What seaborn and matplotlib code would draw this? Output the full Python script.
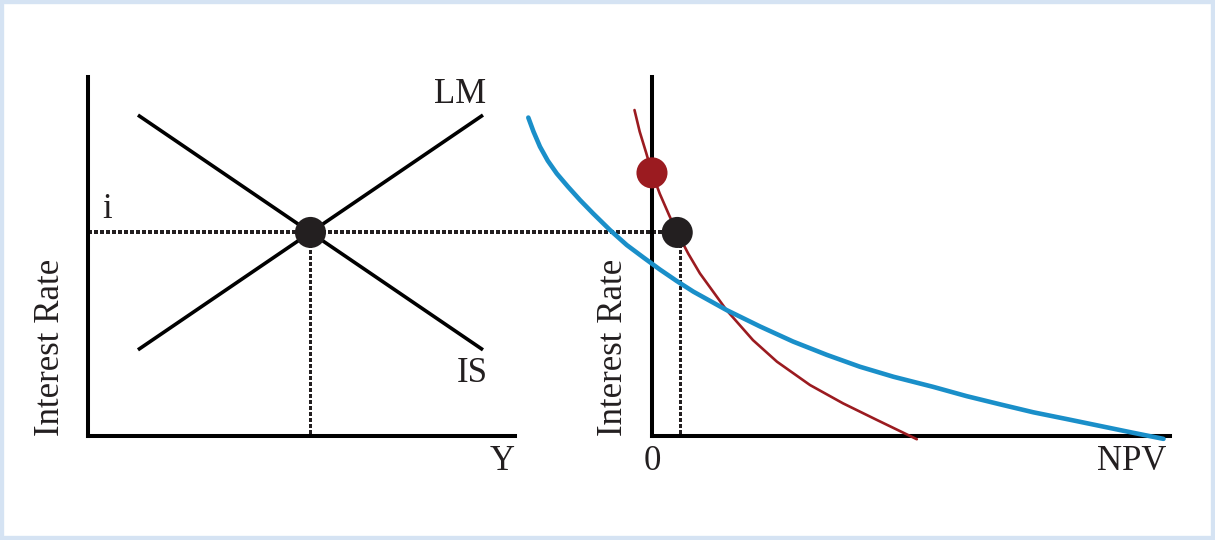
import matplotlib
matplotlib.use("Agg")
import matplotlib.pyplot as plt
import pandas as pd
import seaborn as sns
from matplotlib.patches import ConnectionPatch, Rectangle

# ---------------- data ----------------
# Left panel: IS-LM diagram (output Y on x, interest rate on y)
lm_output = [1.17, 9.25]
lm_rate = [2.40, 8.94]
is_output = [1.17, 9.25]
is_rate = [8.94, 2.40]
eq_output = [5.21]
eq_rate = [5.67]

# Right panel: NPV (x) vs interest rate (y)
red_npv = [-0.27, -0.19, -0.09, 0.0, 0.12, 0.27, 0.39, 0.56, 0.74, 1.15,
           1.56, 1.93, 2.44, 2.95, 3.47, 4.09]
red_rate = [9.08, 8.48, 7.89, 7.33, 6.75, 6.13, 5.67, 5.08, 4.53, 3.51,
            2.67, 2.07, 1.42, 0.91, 0.45, -0.09]
blue_npv = [-1.91, -1.83, -1.73, -1.61, -1.47, -1.30, -1.11, -0.91, -0.65,
            -0.39, -0.13, 0.12, 0.38, 0.64, 1.15, 1.67, 2.18, 2.70, 3.21, 3.73,
            4.34, 4.86, 5.38, 5.89, 6.41, 6.92, 7.43, 7.90]
blue_rate = [8.87, 8.48, 8.06, 7.67, 7.31, 6.95, 6.57, 6.20, 5.74,
             5.32, 4.97, 4.64, 4.32, 4.02, 3.51, 3.05, 2.63, 2.26, 1.93, 1.65,
             1.37, 1.11, 0.88, 0.66, 0.47, 0.28, 0.09, -0.08]
irr_npv = [0.0]
irr_rate = [7.33]
npv_at_i = [0.39]

left_labels = {"LM": (8.71, 9.50), "IS": (8.99, 1.75), "Y": (9.70, -0.72), "i": (0.44, 6.30)}
right_labels = {"0": (0.0, -0.72), "NPV": (7.41, -0.72)}
axis_title = "Interest Rate"

# ---------------- style ----------------
sns.set_theme(style="white")
plt.rcParams["font.family"] = ["Liberation Serif", "DejaVu Serif"]

TXT = "#231f20"
BLK = "#000000"
DOT = "#231f20"
RED = "#9b1b20"
BLUE = "#1a8fc9"
FS = 25
DOT_LW = 2.5
dotted = (0, (0.95, 0.75))

fig = plt.figure(figsize=(12.15, 5.4), dpi=100)
fig.patch.set_facecolor("white")

axL = fig.add_axes([88 / 1215, 104 / 540, 427 / 1215, 359 / 540])
axR = fig.add_axes([516 / 1215, 104 / 540, 654 / 1215, 359 / 540])

for ax in (axL, axR):
    ax.set_facecolor("none")
    for s in ("top", "right"):
        ax.spines[s].set_visible(False)
    for s in ("left", "bottom"):
        ax.spines[s].set_color(BLK)
        ax.spines[s].set_linewidth(2.9)
        ax.spines[s].set_capstyle("projecting")
    ax.set_xticks([])
    ax.set_yticks([])
    ax.grid(False)

axL.set_xlim(0, 10)
axL.set_ylim(0, 10)
axR.set_xlim(-2.1, 8.0)
axR.set_ylim(0, 10)
axR.spines["left"].set_position(("data", 0))
axR.spines["bottom"].set_bounds(0, 8.0)

# ---------------- left panel ----------------
lm_df = pd.DataFrame({"Y": lm_output, "r": lm_rate})
is_df = pd.DataFrame({"Y": is_output, "r": is_rate})
sns.lineplot(data=lm_df, x="Y", y="r", ax=axL, color=BLK, lw=2.6, sort=False,
             estimator=None, solid_capstyle="butt", zorder=3)
sns.lineplot(data=is_df, x="Y", y="r", ax=axL, color=BLK, lw=2.6, sort=False,
             estimator=None, solid_capstyle="butt", zorder=3)
sns.lineplot(x=[eq_output[0], eq_output[0]], y=[eq_rate[0], 0], ax=axL, color=DOT,
             lw=DOT_LW, linestyle=dotted, dash_capstyle="butt", antialiased=False,
             estimator=None, sort=False, zorder=2)
sns.scatterplot(x=eq_output, y=eq_rate, ax=axL, color=DOT, s=500, edgecolor="none",
                zorder=5, clip_on=False)

for t, (x, y) in left_labels.items():
    axL.text(x, y, t, fontsize=FS, color=TXT, ha="center", va="center")
axL.text(-0.87, 0.0, axis_title, fontsize=FS, color=TXT, rotation=90,
         ha="center", va="bottom")

# ---------------- right panel ----------------
red_df = pd.DataFrame({"npv": red_npv, "r": red_rate})
blue_df = pd.DataFrame({"npv": blue_npv, "r": blue_rate})
sns.lineplot(data=red_df, x="npv", y="r", ax=axR, color=RED, lw=1.9, sort=False,
             estimator=None, zorder=3, clip_on=False, solid_joinstyle="round")
sns.lineplot(data=blue_df, x="npv", y="r", ax=axR, color=BLUE, lw=3.3, sort=False,
             estimator=None, zorder=3, clip_on=False, solid_joinstyle="round")
sns.lineplot(x=[npv_at_i[0] + 0.04, npv_at_i[0] + 0.04], y=[eq_rate[0], 0], ax=axR,
             color=DOT, lw=DOT_LW, linestyle=dotted, dash_capstyle="butt",
             antialiased=False, estimator=None, sort=False, zorder=2)
sns.scatterplot(x=irr_npv, y=irr_rate, ax=axR, color=RED, s=500, edgecolor="none",
                zorder=5, clip_on=False)
sns.scatterplot(x=npv_at_i, y=eq_rate, ax=axR, color=DOT, s=500, edgecolor="none",
                zorder=5, clip_on=False)

for t, (x, y) in right_labels.items():
    axR.text(x, y, t, fontsize=FS, color=TXT, ha="center", va="center")
axR.text(-0.59, 0.0, axis_title, fontsize=FS, color=TXT, rotation=90,
         ha="center", va="bottom")

for ax in (axL, axR):
    ax.set_xlabel("")
    ax.set_ylabel("")
    leg = ax.get_legend()
    if leg is not None:
        leg.remove()

# horizontal dotted line linking the two panels at the interest rate i
con = ConnectionPatch(xyA=(0, eq_rate[0]), coordsA=axL.transData,
                      xyB=(npv_at_i[0], eq_rate[0]), coordsB=axR.transData,
                      color=DOT, lw=DOT_LW, linestyle=dotted, capstyle="butt",
                      antialiased=False, zorder=-1)
fig.add_artist(con)

# light blue frame
fig.add_artist(Rectangle((0, 0), 1, 1, transform=fig.transFigure, fill=False,
                         edgecolor="#d5e3f3", lw=6, zorder=10))

fig.savefig("out.png", dpi=100, facecolor="white")
